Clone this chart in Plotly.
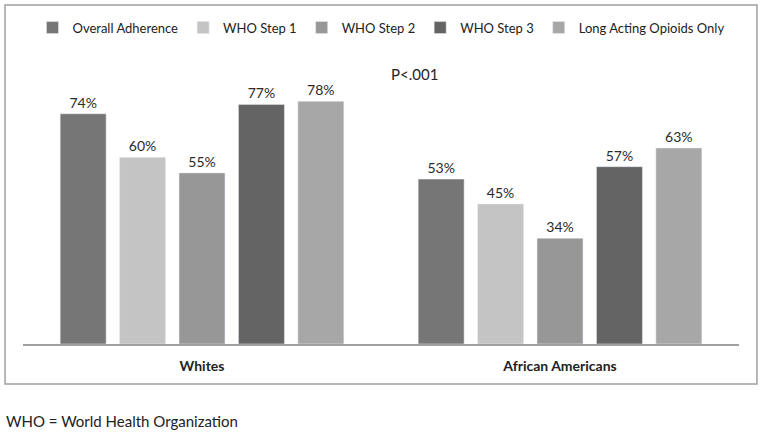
import plotly.graph_objects as go

groups = ["Whites", "African Americans"]
series = ["Overall Adherence", "WHO Step 1", "WHO Step 2", "WHO Step 3", "Long Acting Opioids Only"]
values = {
    "Overall Adherence": [0.74, 0.53],
    "WHO Step 1": [0.60, 0.45],
    "WHO Step 2": [0.55, 0.34],
    "WHO Step 3": [0.77, 0.57],
    "Long Acting Opioids Only": [0.78, 0.63],
}
colors = ["#767676", "#c4c4c4", "#979797", "#646464", "#a7a7a7"]

FONT = "Lato, 'Open Sans', sans-serif"

fig = go.Figure()
for name, col in zip(series, colors):
    fig.add_trace(go.Bar(
        x=groups, y=values[name], name=name,
        marker=dict(color=col),
        text=[f"{v:.0%}" for v in values[name]],
        textposition="outside",
        textfont=dict(size=14, color="#2a2a2a", family=FONT),
        cliponaxis=False,
    ))

fig.update_layout(
    width=762, height=434,
    margin=dict(l=23, r=23, t=64, b=90, autoexpand=False),
    paper_bgcolor="white", plot_bgcolor="white",
    barmode="group", bargap=0.17, bargroupgap=0.227,
    font=dict(family=FONT, size=14, color="#222222"),
    showlegend=True,
    legend=dict(orientation="h", x=0.5, xanchor="center", y=1.13, yanchor="middle",
                font=dict(size=13, color="#222222"), itemwidth=30, tracegroupgap=0),
    xaxis=dict(showline=True, linecolor="#a0a0a0", linewidth=1.5, ticks="",
               ticklabelstandoff=8,
               tickfont=dict(size=14, color="#222222", family=FONT, weight="bold")),
    yaxis=dict(range=[0, 0.9], visible=False, showgrid=False),
)

# outer border around the chart area
fig.add_shape(type="rect", xref="paper", yref="paper",
              x0=-0.0251, x1=1.0251, y0=-0.1429, y1=1.2107,
              line=dict(color="#a0a0a0", width=1.5), fillcolor="rgba(0,0,0,0)")

fig.add_annotation(text="P<.001", xref="paper", yref="paper", x=0.547, y=0.964,
                   yanchor="middle", showarrow=False,
                   font=dict(size=15, color="#222222", family=FONT))
fig.add_annotation(text="WHO = World Health Organization", xref="paper", yref="paper",
                   x=-0.0265, y=-0.275, xanchor="left", yanchor="middle", showarrow=False,
                   font=dict(size=15, color="#222222", family=FONT))

# drop the default page margin so the figure sits at the window's corner
fig.write_html("out.html", config={"displayModeBar": False},
               post_script="document.body.style.margin='0';")
